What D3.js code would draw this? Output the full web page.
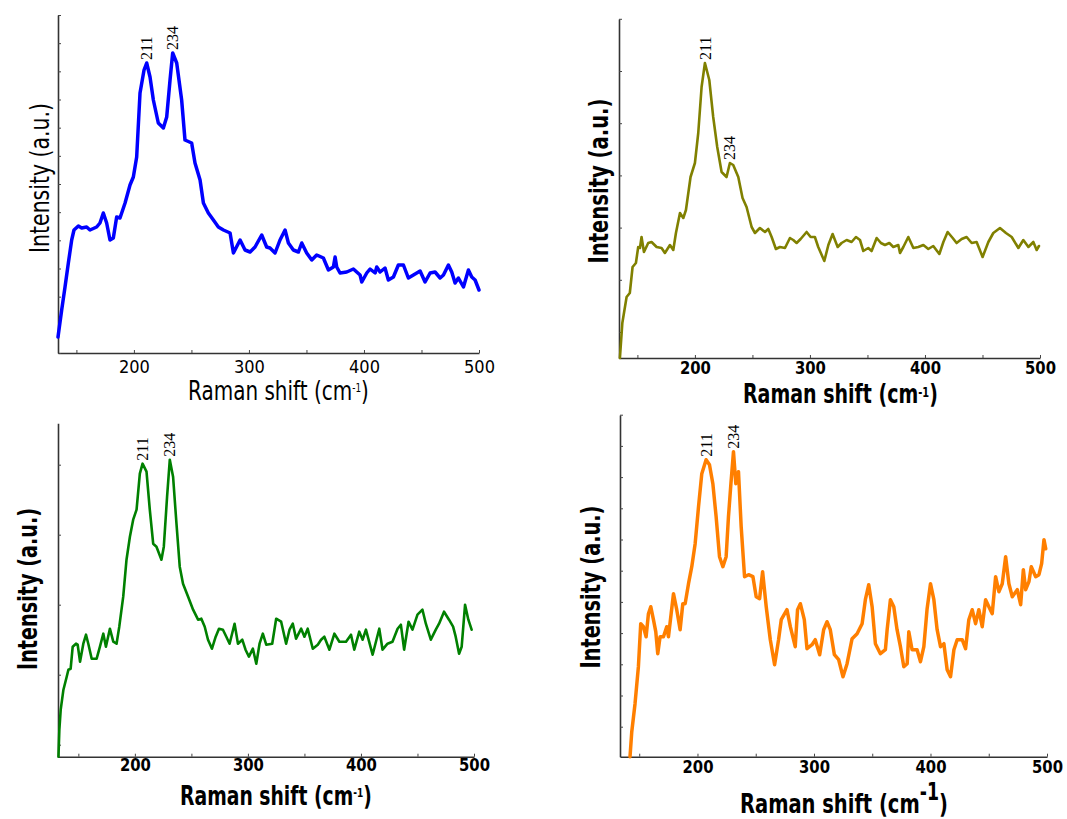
<!DOCTYPE html>
<html><head><meta charset="utf-8">
<script src="https://cdn.jsdelivr.net/npm/d3@7"></script>
<style>body{margin:0;background:#fff}svg{display:block}</style>
</head><body>
<svg id="c" width="1067" height="819"></svg>
<script>
// ---------- data ----------
const xTickValues = [150,200,250,300,350,400,450,500];
const xTickLabels = [200,300,400,500];
const peakLabels = [211,234];
const xTitleText = "Raman shift (cm";
const xTitleSup = "-1";
const yTitleText = "Intensity (a.u.)";

const p1x = [134,137.2,140.1,143,145.9,147.9,151.7,154.6,158.9,161.8,167.6,170.5,173.4,176.3,179.2,182.1,185,187.9,192.3,196.6,199.5,202.4,205.3,208.8,211.1,214,216.9,221.2,225.6,228.5,231.4,233.7,237.2,241.5,244.4,250.2,253.1,257.5,260.4,264.7,269.1,273.4,277.8,283.6,286.5,292.3,296.6,301,305.3,311.1,315.4,318.3,322.7,327,331.4,334.3,338.6,343,345.9,350.2,354.6,358.9,364.7,369.1,373.4,374.9,376.3,379.2,385,390.8,396.6,398.1,402.4,405.3,409.7,411.1,414,418.3,421.2,425.6,429.9,434.3,438.6,443,448.8,453.1,457.5,461.8,466.2,469.1,473.4,476.3,479.2,482.1,486.5,490.8,493.7,496.6,500];
const p1y = [16,43,66,90,113,123,127,125,126,123,126,130,140,130,113,115,136,135,150,168,176,196,260,283,290,276,253,230,225,236,273,300,290,253,213,210,190,173,150,140,133,126,123,120,100,113,103,101,106,118,106,105,100,113,123,110,103,101,110,100,93,98,95,83,86,96,86,80,81,84,78,71,80,84,80,86,81,85,73,76,88,88,75,78,82,71,80,81,75,78,88,81,70,75,66,83,76,73,63];

const p2x = [134.8,136.9,140.6,143.4,145.8,148.7,150.7,152.2,153.6,155.7,159.4,162.3,166.7,171,173.9,178.3,181.2,183.5,187,189.9,192.2,196.2,200,202.9,205.8,208.7,212.5,215.9,219.4,223.2,227.5,230.4,233.3,237.7,241.4,244.9,249.3,252.2,256.5,260.9,263.8,266.7,270.4,273.9,278.3,282.6,285.5,288.4,291.9,297.1,300.6,304.3,307.2,312.5,316,319.7,324.1,327.5,331.9,336.2,340,343.5,346.4,350.7,353.6,358,361.7,365.2,369,372.5,376.8,378.3,381.2,385.5,389.9,394.2,398.6,402.9,407.2,412.5,416,419.7,424.1,427.5,431.9,436.2,440.6,444.9,450.1,455.1,459.4,465.2,470.4,475.4,481.2,485.5,489.9,494.2,497.1,499.1];
const p2y = [0,35,61,65,91,95,111,110,121,106,115,116,111,110,105,113,108,125,145,140,148,181,195,225,271,295,278,241,211,186,181,195,193,181,160,151,131,125,130,126,129,121,109,111,110,120,118,115,119,126,121,121,111,97,113,124,111,115,118,116,121,118,107,110,107,120,115,113,115,111,113,105,111,121,110,111,113,109,112,104,116,126,120,115,119,121,115,116,101,116,125,130,125,121,110,118,111,116,108,112];

const p3x = [132.4,133.2,134.4,136.8,139.7,141.2,143.2,145,147.9,149.4,151.5,154.4,156.8,158.8,161.8,166.2,169.1,172.1,174.4,177.9,180.9,183.8,186.2,189.7,192.6,195.6,198.5,201.5,204.4,206.8,210.3,213.2,216.2,219.1,223.5,225.6,228.5,230.9,233.8,236.8,239.7,242.6,247.1,251.5,255.9,258.8,261.8,264.7,268.2,271.5,274.4,277.9,280.9,283.8,288.2,291.2,295,297.9,300.9,304.4,307.4,310.3,313.2,316.2,321.5,325,329.4,333.8,336.8,339.7,342.6,347.1,350,352.9,357.4,361.8,364.7,367.6,372.1,376.5,380.9,386.8,391.2,394.1,398.5,401.5,404.4,410.3,416.2,419.1,423.5,427.9,432.4,435.3,438.2,442.1,445.6,450,454.4,457.4,461.8,466.2,469.1,473.5,477.9,481.5,483.8,486.8,489.1,492.1,495,497.9];
const p3y = [0,27,47,67,80,87,88,110,113,112,95,113,122,113,98,98,110,123,110,128,115,113,130,160,197,220,237,247,283,293,285,247,213,210,197,210,260,297,280,233,190,173,160,147,137,138,130,117,108,120,128,127,120,113,133,113,117,107,100,108,93,113,123,112,113,138,135,113,127,133,118,128,120,128,108,112,117,120,107,123,115,115,122,107,125,117,127,102,128,107,113,115,128,132,107,135,127,142,147,133,117,127,133,145,137,130,120,103,110,152,137,127];

const p4x = [142.1,143.6,146.4,149.3,151.3,153.6,155.9,157.9,159.9,162.2,164.2,165.9,167.9,170.8,173.6,175.1,177.4,179.4,182.2,185.1,187.4,189.4,192.3,195.1,198,200.9,203.7,207.4,210.3,213.2,216,218.9,221.8,224.6,226.6,228.7,230.9,232.9,235.2,237.5,240.4,243.8,247.6,250.4,253.3,255.9,259,262.5,266.2,269.6,271.9,276.8,279.7,283.9,285.9,288.3,291.7,294,298.3,301.1,304.9,308.3,311.2,314,317.5,321.2,324.9,328.4,332.7,337,341.3,344.1,347,349.9,352.7,357,361.3,362.8,365.6,368.5,371.3,374.2,377.1,380,381.4,384.2,388.5,391.4,394.3,397.1,400,402.9,405.7,408.6,411.5,414.3,417.2,420.1,422.9,427.2,430.1,432.9,435.8,438.7,441.5,444.4,447.3,450.1,453,455.9,458.7,461.6,464.5,467.3,470.2,474.5,477.4,479.7,481.7,484.5,486.5,490.3,493.1,495.4,497.4,498.9];
const p4y = [0,25,53,90,133,130,120,143,150,137,125,103,120,120,130,120,143,163,147,127,153,153,173,190,213,250,283,297,292,273,240,200,190,200,240,273,305,273,285,230,180,182,180,160,158,185,150,117,92,117,137,147,130,110,147,153,137,108,112,117,102,127,135,127,102,97,80,93,118,123,133,157,172,150,113,103,107,127,157,150,127,110,90,93,125,107,107,95,110,148,173,157,127,110,113,87,80,107,117,117,108,137,147,133,147,130,157,150,143,180,165,173,200,173,160,167,152,187,167,175,190,180,182,193,217,208];

const p1yTicks = d3.range(0,13).map(i => i*338/12);
const p2yTicks = d3.range(0,7).map(i => 26 + i*52.2);
const p3yTicks = [12,82,152,222,292];
const p4yTicks = d3.range(0,11).map(i => 30 + i*31.2);

// ---------- layout ----------
const panels = [
  {xs:p1x, ys:p1y, yt:p1yTicks, color:"#0000ff", lw:3.5, xr:[58,479], yr:[353,15], xd:[134,500], yd:[0,338], tp:7, bold:false,
   xt:{x0:188, x1:369, base:400, size:27}, sup:{base:392, size:12},
   yl:{x:49, cy:178, len:150, size:27}},
  {xs:p2x, ys:p2y, yt:p2yTicks, color:"#808000", lw:2.6, xr:[619,1040], yr:[358,19], xd:[134,500], yd:[0,339], tp:3, bold:true,
   xt:{x0:743, x1:938, base:403, size:27}, sup:{base:397, size:14},
   yl:{x:608, cy:181, len:165, size:27}},
  {xs:p3x, ys:p3y, yt:p3yTicks, color:"#008000", lw:2.6, xr:[58,474], yr:[756.7,423.3], xd:[132,500], yd:[0,333.4], tp:2, bold:true,
   xt:{x0:180, x1:372, base:805, size:27}, sup:{base:797, size:13},
   yl:{x:37, cy:589, len:162, size:27}},
  {xs:p4x, ys:p4y, yt:p4yTicks, color:"#ff7f00", lw:3.5, xr:[620,1047], yr:[756.7,415], xd:[133.5,500], yd:[0,341.7], tp:4, bold:true,
   xt:{x0:740, x1:948, base:813, size:27}, sup:{base:800, size:24},
   yl:{x:600, cy:587, len:163, size:27}}
];

const svg = d3.select("#c");
svg.append("rect").attr("width",1067).attr("height",819).attr("fill","#fff");
const sans = "'DejaVu Sans', sans-serif";

panels.forEach(p => {
  const x = d3.scaleLinear().domain(p.xd).range(p.xr);
  const y = d3.scaleLinear().domain(p.yd).range(p.yr);
  const g = svg.append("g");
  const fw = p.bold ? "bold" : "normal";

  const xa = g.append("g").attr("transform",`translate(0,${p.yr[0]})`)
    .call(d3.axisBottom(x).tickValues(xTickValues).tickSize(-3).tickSizeOuter(0).tickPadding(p.tp)
      .tickFormat(d => xTickLabels.includes(d) ? String(d) : ""));
  const ya = g.append("g").attr("transform",`translate(${p.xr[0]},0)`)
    .call(d3.axisLeft(y).tickValues(p.yt).tickSize(-3).tickSizeOuter(0).tickFormat(""));
  [xa, ya].forEach(a => {
    a.select(".domain").attr("stroke","#333").attr("stroke-width",1.6);
    a.selectAll(".tick line").attr("stroke","#444").attr("stroke-width",1);
  });
  xa.selectAll(".tick").filter(d => !xTickLabels.includes(d)).select("text").remove();
  xa.selectAll(".tick text").attr("font-family",sans).attr("font-size",18).attr("font-weight",fw).attr("fill","#000")
    .each(function(){
      const t = d3.select(this);
      const w = this.getComputedTextLength();
      const yy = +t.attr("y");
      t.attr("y",null).attr("transform",`translate(0,${yy}) scale(${31/w},1)`);
    });

  const pts = d3.zip(p.xs, p.ys);
  g.append("path").datum(pts)
    .attr("d", d3.line().x(d => x(d[0])).y(d => y(d[1])))
    .attr("fill","none").attr("stroke",p.color).attr("stroke-width",p.lw)
    .attr("stroke-linejoin","round").attr("stroke-linecap","round");

  // peak labels
  peakLabels.forEach(v => {
    const near = pts.filter(d => Math.abs(d[0]-v) <= 5);
    const top = near.reduce((a,b) => b[1] > a[1] ? b : a);
    g.append("text")
      .attr("transform",`translate(${x(top[0])},${y(top[1])-3}) rotate(-90)`)
      .attr("dy","0.35em").attr("text-anchor","start")
      .attr("font-family","'Liberation Serif', 'Times New Roman', serif").attr("font-size",16).attr("fill","#000")
      .text(String(v));
  });

  // x title (one text element with superscript), condensed by horizontal scale
  const t = g.append("text")
    .attr("font-family",sans).attr("font-size",p.xt.size).attr("font-weight",fw).attr("fill","#000");
  t.append("tspan").text(xTitleText);
  t.append("tspan").attr("font-size",p.sup.size).attr("dy",p.sup.base-p.xt.base).text(xTitleSup);
  t.append("tspan").attr("dy",p.xt.base-p.sup.base).text(")");
  const tw = t.node().getComputedTextLength();
  t.attr("transform",`translate(${p.xt.x0},${p.xt.base}) scale(${(p.xt.x1-p.xt.x0)/tw},1)`);

  // y title
  const yt = g.append("text")
    .attr("text-anchor","middle").attr("font-family",sans).attr("font-size",p.yl.size).attr("font-weight",fw).attr("fill","#000")
    .text(yTitleText);
  const yw = yt.node().getComputedTextLength();
  yt.attr("transform",`translate(${p.yl.x},${p.yl.cy}) rotate(-90) scale(${p.yl.len/yw},1)`);
});
</script>
</body></html>
